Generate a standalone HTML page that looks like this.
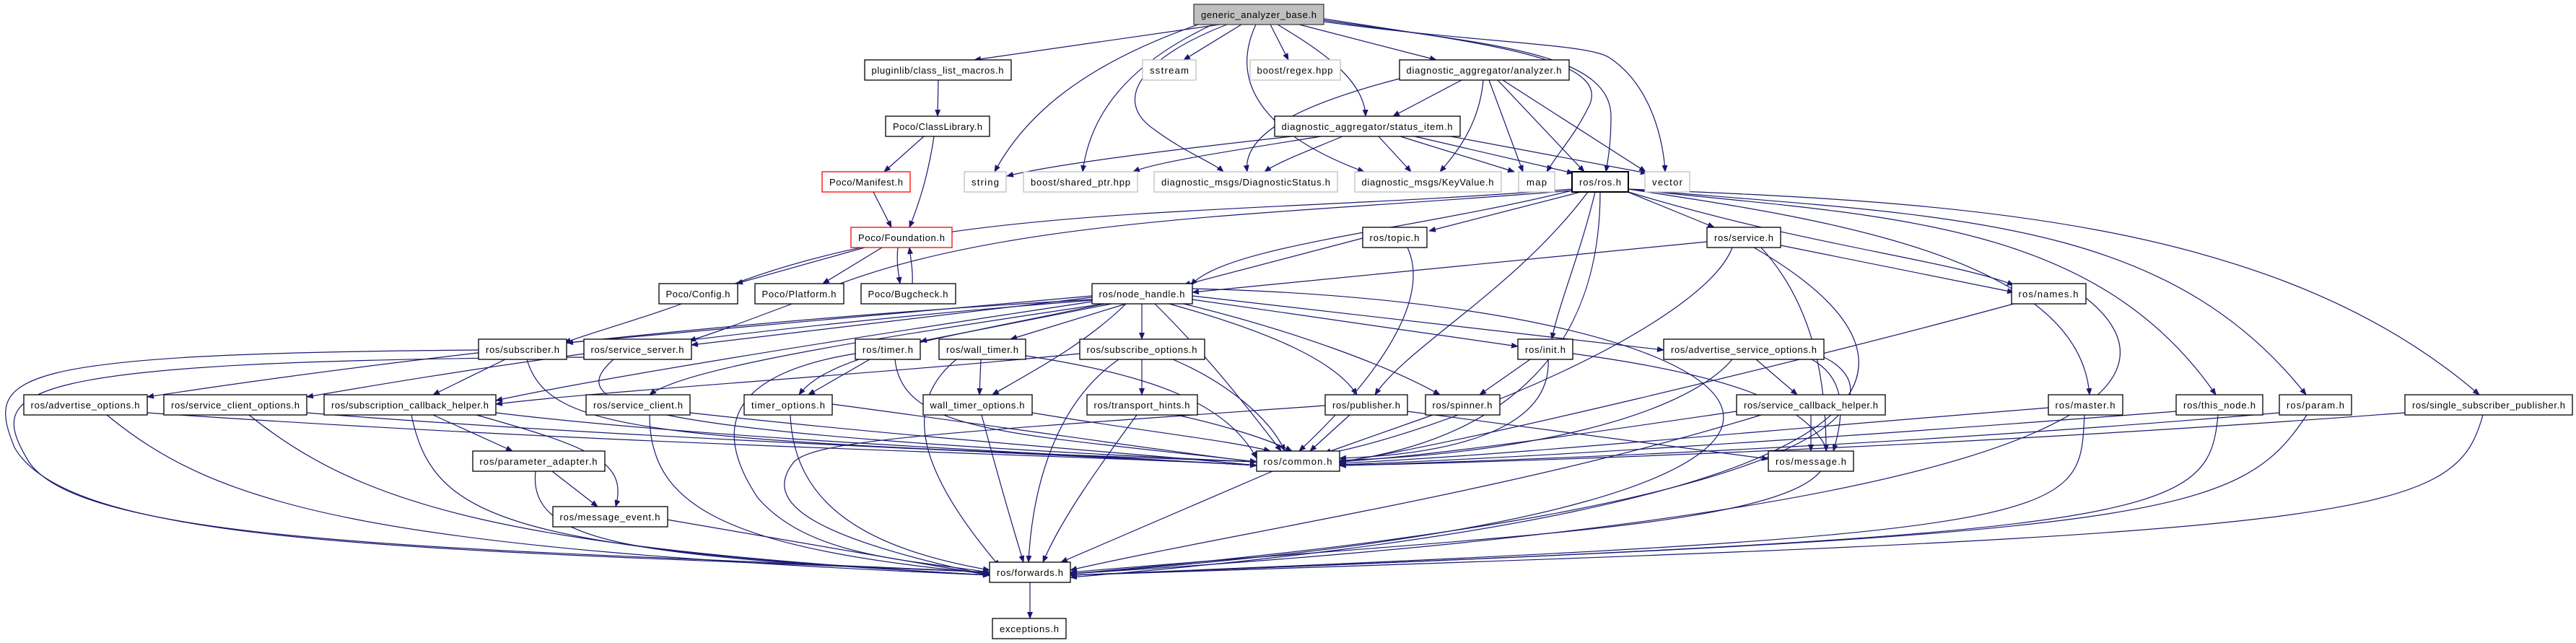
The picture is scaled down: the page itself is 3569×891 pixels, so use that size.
<!DOCTYPE html>
<html><head><meta charset="utf-8">
<style>
html,body{margin:0;padding:0;background:#fff;}
svg{display:block;}
.n rect{fill:#fff;stroke:#000;stroke-width:1.3;}
.g rect{fill:#fff;stroke:#bfbfbf;stroke-width:1.3;}
.r rect{fill:#fff;stroke:#ff0000;stroke-width:1.3;}
text{font-family:"Liberation Sans","DejaVu Sans",sans-serif;font-size:13px;fill:#000;text-anchor:middle;}
.e path{fill:none;stroke:#191970;stroke-width:1.2;marker-end:url(#a);}
</style></head><body>
<svg width="3569" height="891" viewBox="0 0 3569 891" xmlns="http://www.w3.org/2000/svg">
<defs><marker id="a" markerWidth="10" markerHeight="8" refX="9" refY="4" orient="auto" markerUnits="userSpaceOnUse"><path d="M0,0 L10,4 L0,8 z" fill="#191970"/></marker></defs>
<g class="e">
<path d="M1690,34 L1350,83"/>
<path d="M1720,34 L1640,83"/>
<path d="M1760,34 L1785,83"/>
<path d="M1800,34 L1990,83"/>
<path d="M1770,34 C1830,70 1890,110 1892,161"/>
<path d="M1660,34 C1500,90 1420,160 1378,238"/>
<path d="M1680,34 C1560,90 1510,160 1500,238"/>
<path d="M1700,34 C1580,80 1540,140 1600,180 C1640,210 1680,225 1695,238"/>
<path d="M1740,34 C1700,120 1760,190 1890,238"/>
<path d="M1834,26 C2050,60 2240,80 2200,150 C2180,190 2160,210 2143,238"/>
<path d="M1834,28 C2050,60 2230,70 2232,160 C2232,200 2228,220 2225,238"/>
<path d="M1834,30 C2050,60 2200,60 2230,80 C2290,120 2305,200 2307,238"/>
<path d="M1300,111 L1299,161"/>
<path d="M1280,189 L1225,238"/>
<path d="M1294,189 C1285,250 1270,290 1260,315"/>
<path d="M1210,266 L1235,315"/>
<path d="M1198,343 L1020,393"/>
<path d="M1222,343 L1140,393"/>
<path d="M1244,343 C1242,360 1244,375 1247,393"/>
<path d="M1264,393 C1265,375 1262,360 1260,343"/>
<path d="M2025,111 L1930,161"/>
<path d="M1939,109 C1820,140 1720,180 1728,238"/>
<path d="M2055,111 C2050,170 2020,210 1995,238"/>
<path d="M2063,111 L2110,238"/>
<path d="M2075,111 L2195,238"/>
<path d="M2082,111 L2280,238"/>
<path d="M1790,189 C1600,210 1450,230 1395,244"/>
<path d="M1830,189 C1700,210 1600,225 1570,238"/>
<path d="M1860,189 C1810,210 1770,225 1752,238"/>
<path d="M1910,189 L1955,238"/>
<path d="M1940,189 L2098,238"/>
<path d="M1960,189 L2180,240"/>
<path d="M2010,189 L2282,240"/>
<path d="M2190,266 L1980,320"/>
<path d="M2255,266 L2375,315"/>
<path d="M2178,264 C1950,320 1700,340 1650,395"/>
<path d="M2256,266 C2500,340 2700,360 2790,395"/>
<path d="M2210,266 C2190,350 2160,420 2150,470"/>
<path d="M2217,266 C2217,550 2000,620 1856,640"/>
<path d="M2200,266 C2100,400 1950,480 1905,547"/>
<path d="M2178,262 C1700,300 1300,280 1000,400 C900,440 820,460 782,475"/>
<path d="M2178,264 C1750,300 1350,300 1100,420 C1020,450 980,465 955,472"/>
<path d="M2256,262 C2500,300 2880,350 2895,547"/>
<path d="M2256,262 C2600,300 2900,300 3070,547"/>
<path d="M2256,262 C2700,300 3000,300 3195,547"/>
<path d="M2256,262 C2700,280 3150,300 3435,547"/>
<path d="M1888,330 L1640,395"/>
<path d="M1950,343 C1990,430 1870,560 1800,625"/>
<path d="M2365,335 L1652,405"/>
<path d="M2467,340 L2790,405"/>
<path d="M2400,343 C2360,450 2000,600 1830,630"/>
<path d="M2430,343 C2700,500 2700,700 1483,800"/>
<path d="M2440,343 C2510,420 2530,520 2530,625"/>
<path d="M2790,421 C2500,500 2000,620 1856,640"/>
<path d="M2890,413 C3000,500 3050,700 1483,795"/>
<path d="M1513,410 L785,475"/>
<path d="M1513,412 L958,478"/>
<path d="M1513,415 C900,450 400,520 204,550"/>
<path d="M1513,416 C950,460 600,520 425,550"/>
<path d="M1513,418 C1100,480 800,530 687,555"/>
<path d="M1530,421 C1200,470 950,510 900,547"/>
<path d="M1540,421 L1275,473"/>
<path d="M1560,421 L1400,470"/>
<path d="M1582,421 L1582,470"/>
<path d="M1530,421 C1300,470 1150,490 1107,547"/>
<path d="M1560,421 C1500,480 1420,520 1375,547"/>
<path d="M1600,421 C1680,500 1740,580 1775,625"/>
<path d="M1620,421 C1760,460 1850,500 1880,547"/>
<path d="M1640,421 C1800,460 1930,510 1995,547"/>
<path d="M1652,415 L2103,480"/>
<path d="M1652,410 L2305,485"/>
<path d="M1652,400 C2500,420 2820,700 1483,795"/>
<path d="M700,498 L600,547"/>
<path d="M730,498 C760,600 900,610 1741,640"/>
<path d="M663,485 C0,490 -20,520 20,620 C100,760 600,760 1371,793"/>
<path d="M850,498 C780,560 850,600 1741,640"/>
<path d="M809,495 C0,500 -20,540 40,640 C120,760 700,760 1371,793"/>
<path d="M1205,498 L1120,547"/>
<path d="M1240,498 C1250,600 1400,600 1741,640"/>
<path d="M1185,490 C1000,520 990,600 1050,690 C1120,770 1250,775 1371,793"/>
<path d="M1359,498 L1357,547"/>
<path d="M1421,493 C1600,520 1700,560 1741,635"/>
<path d="M1325,498 C1250,560 1270,650 1385,785"/>
<path d="M1582,498 L1582,547"/>
<path d="M1625,498 C1700,530 1760,580 1780,625"/>
<path d="M1550,498 C1460,560 1430,680 1425,779"/>
<path d="M1496,490 C1200,520 850,540 687,560"/>
<path d="M2120,498 L2050,547"/>
<path d="M2145,498 C2150,600 2000,630 1856,635"/>
<path d="M2179,490 C2400,520 2500,560 2530,620 C2560,730 2100,740 1483,793"/>
<path d="M2433,498 L2490,547"/>
<path d="M2400,498 C2330,580 2100,630 1856,638"/>
<path d="M2510,498 C2550,520 2560,560 2540,625"/>
<path d="M2527,495 C2620,540 2620,700 1483,795"/>
<path d="M204,572 C900,620 1500,630 1741,645"/>
<path d="M425,572 C900,610 1500,630 1741,645"/>
<path d="M687,572 C1000,610 1500,630 1741,645"/>
<path d="M956,572 C1300,610 1600,630 1741,645"/>
<path d="M1153,560 C1450,600 1650,630 1741,640"/>
<path d="M1430,572 C1600,600 1700,610 1760,625"/>
<path d="M1630,575 C1700,590 1760,610 1790,625"/>
<path d="M1870,575 L1815,625"/>
<path d="M1985,575 L1835,628"/>
<path d="M2406,570 C2200,600 2000,630 1856,640"/>
<path d="M2838,565 C2400,600 2100,630 1856,642"/>
<path d="M3015,570 C2500,610 2100,635 1856,644"/>
<path d="M3158,572 C2600,620 2100,638 1856,645"/>
<path d="M3332,572 C2700,620 2100,640 1856,645"/>
<path d="M148,575 C300,700 500,760 1371,797"/>
<path d="M345,575 C500,700 700,760 1371,797"/>
<path d="M570,575 C600,720 700,760 1371,797"/>
<path d="M900,575 C900,700 1000,760 1371,795"/>
<path d="M1095,575 C1100,700 1200,760 1371,790"/>
<path d="M1360,575 C1380,650 1400,720 1418,779"/>
<path d="M1575,575 C1520,650 1470,720 1445,779"/>
<path d="M1836,562 C1300,600 1130,610 1100,640 C1060,690 1100,740 1371,797"/>
<path d="M2440,575 C2100,680 1700,740 1483,790"/>
<path d="M2888,575 C2880,720 2900,740 1483,797"/>
<path d="M3073,575 C3060,720 3000,740 1483,797"/>
<path d="M3196,575 C3100,720 3000,740 1483,797"/>
<path d="M3440,575 C3400,720 3300,740 1483,797"/>
<path d="M600,575 L710,625"/>
<path d="M660,575 C820,620 870,640 853,702"/>
<path d="M765,653 L828,702"/>
<path d="M742,653 C730,760 900,770 1371,797"/>
<path d="M924,720 L1371,797"/>
<path d="M1950,570 L2450,636"/>
<path d="M2509,575 L2509,625"/>
<path d="M1763,653 L1470,779"/>
<path d="M1427,807 L1427,857"/>
</g>
<g class="n" transform="translate(0,0)"><rect x="1654" y="6" width="180" height="28" style="fill:#bfbfbf;stroke:#404040"/><text x="1744" y="25" textLength="160">generic_analyzer_base.h</text></g>
<g class="n"><rect x="1198" y="83" width="203" height="28"/><text x="1299" y="102" textLength="183">pluginlib/class_list_macros.h</text></g>
<g class="g"><rect x="1583" y="83" width="74" height="28"/><text x="1620" y="102" textLength="54">sstream</text></g>
<g class="g"><rect x="1732" y="83" width="125" height="28"/><text x="1794" y="102" textLength="105">boost/regex.hpp</text></g>
<g class="n"><rect x="1939" y="83" width="235" height="28"/><text x="2056" y="102" textLength="215">diagnostic_aggregator/analyzer.h</text></g>
<g class="n"><rect x="1227" y="161" width="144" height="28"/><text x="1299" y="180" textLength="124">Poco/ClassLibrary.h</text></g>
<g class="n"><rect x="1766" y="161" width="257" height="28"/><text x="1894" y="180" textLength="237">diagnostic_aggregator/status_item.h</text></g>
<g class="r"><rect x="1139" y="238" width="122" height="28"/><text x="1200" y="257" textLength="102">Poco/Manifest.h</text></g>
<g class="g"><rect x="1336" y="238" width="58" height="28"/><text x="1365" y="257" textLength="38">string</text></g>
<g class="g"><rect x="1418" y="238" width="158" height="28"/><text x="1497" y="257" textLength="138">boost/shared_ptr.hpp</text></g>
<g class="g"><rect x="1599" y="238" width="254" height="28"/><text x="1726" y="257" textLength="234">diagnostic_msgs/DiagnosticStatus.h</text></g>
<g class="g"><rect x="1877" y="238" width="203" height="28"/><text x="1978" y="257" textLength="183">diagnostic_msgs/KeyValue.h</text></g>
<g class="g"><rect x="2104" y="238" width="50" height="28"/><text x="2129" y="257" textLength="28">map</text></g>
<g class="n"><rect x="2178" y="238" width="78" height="28" style="stroke-width:2"/><text x="2217" y="257" textLength="58">ros/ros.h</text></g>
<g class="g"><rect x="2279" y="238" width="62" height="28"/><text x="2310" y="257" textLength="42">vector</text></g>
<g class="r"><rect x="1179" y="315" width="140" height="28"/><text x="1249" y="334" textLength="120">Poco/Foundation.h</text></g>
<g class="n"><rect x="1888" y="315" width="89" height="28"/><text x="1932" y="334" textLength="69">ros/topic.h</text></g>
<g class="n"><rect x="2365" y="315" width="102" height="28"/><text x="2416" y="334" textLength="82">ros/service.h</text></g>
<g class="n"><rect x="913" y="393" width="109" height="28"/><text x="967" y="412" textLength="89">Poco/Config.h</text></g>
<g class="n"><rect x="1046" y="393" width="123" height="28"/><text x="1107" y="412" textLength="103">Poco/Platform.h</text></g>
<g class="n"><rect x="1193" y="393" width="131" height="28"/><text x="1258" y="412" textLength="111">Poco/Bugcheck.h</text></g>
<g class="n"><rect x="1513" y="393" width="139" height="28"/><text x="1582" y="412" textLength="119">ros/node_handle.h</text></g>
<g class="n"><rect x="2787" y="393" width="103" height="28"/><text x="2838" y="412" textLength="83">ros/names.h</text></g>
<g class="n"><rect x="663" y="470" width="122" height="28"/><text x="724" y="489" textLength="102">ros/subscriber.h</text></g>
<g class="n"><rect x="809" y="470" width="149" height="28"/><text x="883" y="489" textLength="129">ros/service_server.h</text></g>
<g class="n"><rect x="1185" y="470" width="90" height="28"/><text x="1230" y="489" textLength="70">ros/timer.h</text></g>
<g class="n"><rect x="1301" y="470" width="120" height="28"/><text x="1361" y="489" textLength="100">ros/wall_timer.h</text></g>
<g class="n"><rect x="1496" y="470" width="173" height="28"/><text x="1582" y="489" textLength="153">ros/subscribe_options.h</text></g>
<g class="n"><rect x="2103" y="470" width="76" height="28"/><text x="2141" y="489" textLength="56">ros/init.h</text></g>
<g class="n"><rect x="2305" y="470" width="222" height="28"/><text x="2416" y="489" textLength="202">ros/advertise_service_options.h</text></g>
<g class="n"><rect x="33" y="547" width="171" height="28"/><text x="118" y="566" textLength="151">ros/advertise_options.h</text></g>
<g class="n"><rect x="227" y="547" width="198" height="28"/><text x="326" y="566" textLength="178">ros/service_client_options.h</text></g>
<g class="n"><rect x="449" y="547" width="238" height="28"/><text x="568" y="566" textLength="218">ros/subscription_callback_helper.h</text></g>
<g class="n"><rect x="812" y="547" width="144" height="28"/><text x="884" y="566" textLength="124">ros/service_client.h</text></g>
<g class="n"><rect x="1031" y="547" width="122" height="28"/><text x="1092" y="566" textLength="102">timer_options.h</text></g>
<g class="n"><rect x="1279" y="547" width="151" height="28"/><text x="1354" y="566" textLength="131">wall_timer_options.h</text></g>
<g class="n"><rect x="1506" y="547" width="153" height="28"/><text x="1582" y="566" textLength="133">ros/transport_hints.h</text></g>
<g class="n"><rect x="1836" y="547" width="114" height="28"/><text x="1893" y="566" textLength="94">ros/publisher.h</text></g>
<g class="n"><rect x="1975" y="547" width="103" height="28"/><text x="2026" y="566" textLength="83">ros/spinner.h</text></g>
<g class="n"><rect x="2406" y="547" width="206" height="28"/><text x="2509" y="566" textLength="186">ros/service_callback_helper.h</text></g>
<g class="n"><rect x="2838" y="547" width="103" height="28"/><text x="2889" y="566" textLength="83">ros/master.h</text></g>
<g class="n"><rect x="3015" y="547" width="120" height="28"/><text x="3075" y="566" textLength="100">ros/this_node.h</text></g>
<g class="n"><rect x="3158" y="547" width="100" height="28"/><text x="3208" y="566" textLength="80">ros/param.h</text></g>
<g class="n"><rect x="3332" y="547" width="232" height="28"/><text x="3448" y="566" textLength="212">ros/single_subscriber_publisher.h</text></g>
<g class="n"><rect x="655" y="625" width="183" height="28"/><text x="746" y="644" textLength="163">ros/parameter_adapter.h</text></g>
<g class="n"><rect x="1741" y="625" width="115" height="28"/><text x="1798" y="644" textLength="95">ros/common.h</text></g>
<g class="n"><rect x="2450" y="625" width="118" height="28"/><text x="2509" y="644" textLength="98">ros/message.h</text></g>
<g class="n"><rect x="766" y="702" width="159" height="28"/><text x="845" y="721" textLength="139">ros/message_event.h</text></g>
<g class="n"><rect x="1371" y="779" width="112" height="28"/><text x="1427" y="798" textLength="92">ros/forwards.h</text></g>
<g class="n"><rect x="1375" y="857" width="102" height="28"/><text x="1426" y="876" textLength="82">exceptions.h</text></g>
</svg>
</body></html>
